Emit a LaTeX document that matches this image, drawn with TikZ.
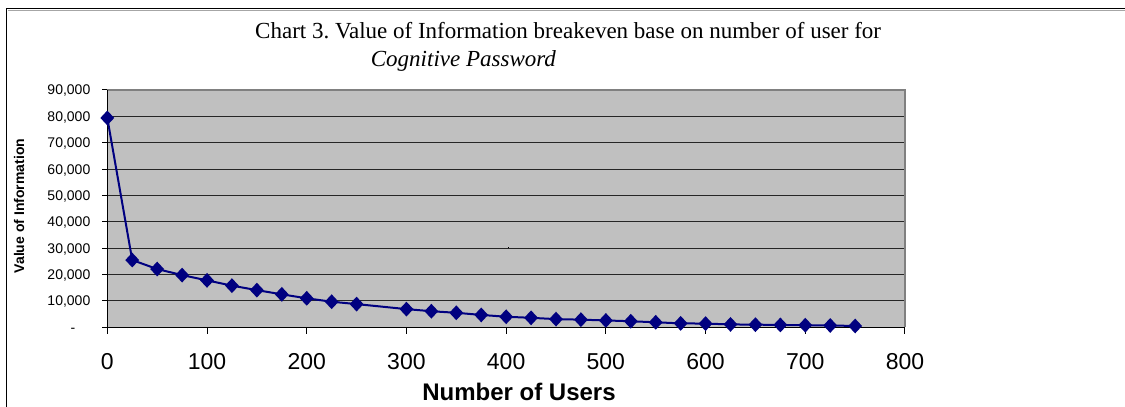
\documentclass[tikz,border=0pt]{standalone}
\usepackage{fontspec}
\setmainfont{Liberation Serif}
\newfontfamily\arialf{Liberation Sans}
\usetikzlibrary{shapes.geometric}
\definecolor{plotgray}{HTML}{C0C0C0}
\definecolor{framegray}{HTML}{808080}
\definecolor{navyc}{HTML}{000080}
\frenchspacing
\begin{document}
\begin{tikzpicture}[x=1pt,y=-1pt,
  ylab/.style={font=\arialf\fontsize{14}{16}\selectfont, anchor=base east, inner sep=0pt},
  xlab/.style={font=\arialf\fontsize{23}{26}\selectfont, anchor=base, inner sep=0pt},
  marker/.style={diamond, fill=navyc, draw=none, inner sep=0pt, minimum width=14pt, minimum height=15pt},
  gridline/.style={black!85, line width=0.9pt},
  axisline/.style={black, line width=1pt},
  series/.style={navyc, line width=2pt, line join=round},
  titletext/.style={font=\fontsize{23}{28}\selectfont, anchor=base west, inner sep=0pt}]
\useasboundingbox (0,0) rectangle (1125,407);
% outer frame
\draw[black!35, line width=0.8pt] (8,10.4) -- (1125,10.4);
\draw[black, line width=1.4pt] (6.7,407) -- (6.7,8.6) -- (1125,8.6);
% title
\node[titletext] (title1) at (255,38) {Chart 3. Value of Information breakeven base on number of user for};
\node[titletext, font=\fontsize{23}{28}\selectfont\itshape] (title2) at (370.7,66.5) {Cognitive Password};
% plot area
\fill[plotgray] (107.3,90) rectangle (905,327.3);
\foreach \v in {1,...,8}
  \draw[gridline] (107.3,{327.3-26.367*\v}) -- (905,{327.3-26.367*\v});
\draw[framegray, line width=1.6pt] (107.3,90) -- (905,90) -- (905,327.3);
\draw[axisline] (107.3,90) -- (107.3,334);
\draw[axisline] (107.3,327.3) -- (905,327.3);
\foreach \v in {0,...,9}
  \draw[axisline] (102,{327.3-26.367*\v}) -- (107.3,{327.3-26.367*\v});
\foreach \u in {1,...,8}
  \draw[axisline] ({107.3+99.71*\u},327.3) -- ({107.3+99.71*\u},334);
% y labels
\foreach \v/\t in {1/{10,000},2/{20,000},3/{30,000},4/{40,000},5/{50,000},6/{60,000},7/{70,000},8/{80,000},9/{90,000}}
  \node[ylab] (yl\v) at (90.5,{327.3-26.367*\v+5}) {\t};
\node[ylab, anchor=base] (yl0) at (73,332.3) {-};
% x labels
\foreach \u/\t in {0/0,1/100,2/200,3/300,4/400,5/500,6/600,7/700,8/800}
  \node[xlab] (xl\u) at ({107.3+99.71*\u},369) {\t};
% axis titles
\node[font=\arialf\bfseries\fontsize{24}{28}\selectfont, anchor=base, inner sep=0pt] (xtitle) at (519,400) {Number of Users};
\node[font=\arialf\bfseries\fontsize{14}{16}\selectfont, rotate=90, inner sep=0pt] (ytitle) at (19,206) {Value of Information};
% stray dot
\fill[black] (507.8,246.6) rectangle (509.2,248);
% data
\begin{scope}[shift={(107.3,327.3)}, xscale=0.99713, yscale=-2.6367]
\foreach \u/\v [count=\i] in {0/79.4,25/25.5,50/22.1,75/19.8,100/17.8,125/15.8,150/14.1,175/12.5,200/11.0,225/9.7,250/8.8,300/6.9,325/6.1,350/5.5,375/4.7,400/4.0,425/3.6,450/3.1,475/2.9,500/2.6,525/2.3,550/1.9,575/1.5,600/1.4,625/1.1,650/1.0,675/0.9,700/0.8,725/0.7,750/0.5}
  \coordinate (c\i) at (\u,\v);
\end{scope}
\draw[series] (c1) \foreach \i in {2,...,30} {-- (c\i)};
\foreach \i in {1,...,30}
  \node[marker] (m\i) at (c\i) {};
\end{tikzpicture}
\end{document}
